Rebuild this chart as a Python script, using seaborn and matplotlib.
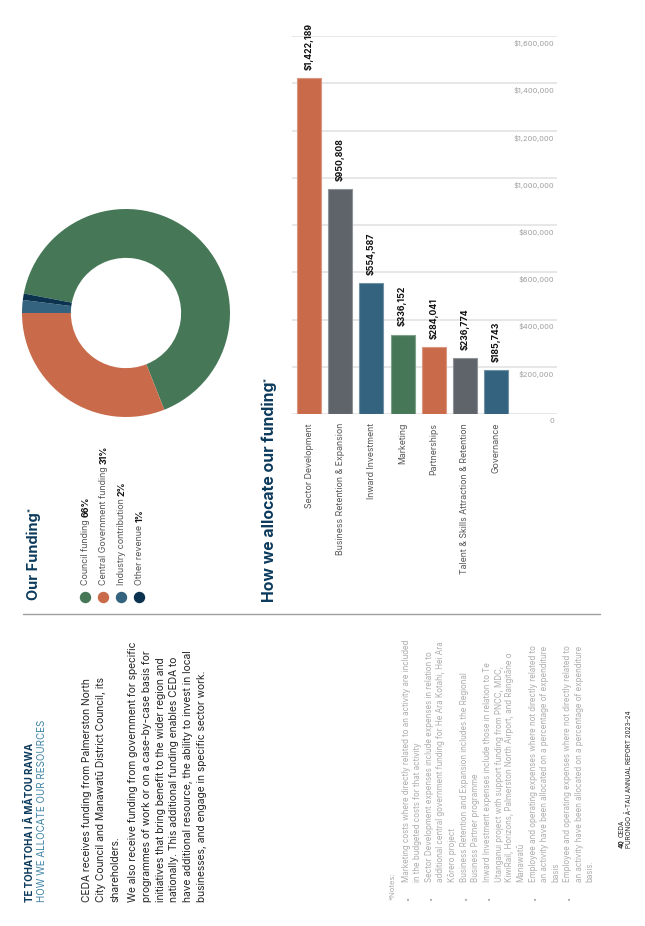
import matplotlib
matplotlib.use('Agg')
import matplotlib.pyplot as plt
from matplotlib.lines import Line2D
from matplotlib.transforms import offset_copy
import pandas as pd
import seaborn as sns

# funding sources (donut)
FUNDING_LABELS = ['Council funding', 'Central Government funding',
                  'Industry contribution', 'Other revenue']
FUNDING_PCT = [66, 31, 2, 1]
FUNDING_COLORS = ['#467857', '#c96b4b', '#34637f', '#0b3350']

# allocation of funding (bars)
ALLOC_CATS = ['Sector Development', 'Business Retention & Expansion',
              'Inward Investment', 'Marketing', 'Partnerships',
              'Talent & Skills Attraction & Retention', 'Governance']
ALLOC_VALUES = [1422189, 950808, 554587, 336152, 284041, 236774, 185743]
ALLOC_COLORS = ['#c96b4b', '#5f646b', '#34637f', '#467857',
                '#c96b4b', '#5f646b', '#34637f']
Y_TICKS = [0, 200000, 400000, 600000, 800000, 1000000, 1200000, 1400000, 1600000]
Y_TICK_LABELS = ['0', '$200,000', '$400,000', '$600,000', '$800,000',
                 '$1,000,000', '$1,200,000', '$1,400,000', '$1,600,000']

PARA1 = ['CEDA receives funding from Palmerston North',
         'City Council and Manawatū District Council, its',
         'shareholders.']
PARA2 = ['We also receive funding from government for specific',
         'programmes of work or on a case-by-case basis for',
         'initiatives that bring benefit to the wider region and',
         'nationally. This additional funding enables CEDA to',
         'have additional resource, the ability to invest in local',
         'businesses, and engage in specific sector work.']
NOTES = [
    ['Marketing costs where directly related to an activity are included',
     'in the budgeted costs for that activity'],
    ['Sector Development expenses include expenses in relation to',
     'additional central government funding for He Ara Kotahi, Hei Ara',
     'Kōrero project'],
    ['Business Retention and Expansion includes the Regional',
     'Business Partner programme'],
    ['Inward Investment expenses include those in relation to Te',
     'Utanganui project with support funding from PNCC, MDC,',
     'KiwiRail, Horizons, Palmerston North Airport, and Rangitāne o',
     'Manawatū'],
    ['Employee and operating expenses where not directly related to',
     'an activity have been allocated on a percentage of expenditure',
     'basis'],
    ['Employee and operating expenses where not directly related to',
     'an activity have been allocated on a percentage of expenditure',
     'basis.'],
]

NAVY = '#0c3a5c'
W, H = 645, 926

sns.set_theme(style='white')
plt.rcParams['font.family'] = ['Inter', 'DejaVu Sans']

fig = plt.figure(figsize=(W / 100, H / 100), dpi=100)
fig.patch.set_facecolor('white')
renderer = fig.canvas.get_renderer()


def fx(px):
    return px / W


def fy(py):
    return 1 - py / H


def vtext(x, y, s, **kw):
    # text rotated to read bottom-to-top, baseline at pixel column x
    return fig.text(fx(x), fy(y), s, rotation=90, rotation_mode='anchor',
                    ha='left', va='baseline', **kw)


def vtext_after(t, s, gap=2, dx=0, **kw):
    bb = t.get_window_extent(renderer)
    x, _ = t.get_position()
    return fig.text(x + dx / W, (bb.y1 + gap) / H, s, rotation=90,
                    rotation_mode='anchor', ha='left', va='baseline', **kw)


# ---- left column text
vtext(33, 902, 'TE TOHATOHA I Ā MĀTOU RAWA', fontsize=7.0,
      fontweight='bold', color=NAVY)
vtext(45, 902, 'HOW WE ALLOCATE OUR RESOURCES', fontsize=7.05, color='#3f84a8')
for i, line in enumerate(PARA1):
    vtext(90 + i * 14, 902, line, fontsize=7.35, color='#222222')
for i, line in enumerate(PARA2):
    vtext(136 + i * 13.8, 902, line, fontsize=7.35, color='#222222')

# divider
fig.add_artist(Line2D([fx(23), fx(600)], [fy(614), fy(614)],
                      color='#a0a0a0', lw=1.0))

# ---- notes
vtext(395, 900, '*Notes:', fontsize=5.6, color='#ababab')
xline = 409
for note in NOTES:
    fig.text(fx(xline - 2), fy(900), '•', fontsize=5.2, color='#ababab',
             ha='center', va='center')
    for line in note:
        vtext(xline, 882, line, fontsize=5.7, color='#ababab')
        xline += 11
    xline += 1.5

# ---- footer
t = vtext(624, 848, '40', fontsize=4.6, fontweight='bold', color='#222222')
vtext_after(t, 'CEDA', gap=2, fontsize=4.6, color='#222222')
vtext(631, 848, 'PŪRONGO Ā-TAU ANNUAL REPORT 2023–24', fontsize=4.6,
      color='#222222')

# ---- Our Funding donut
t = vtext(38, 600, 'Our Funding', fontsize=10.5, fontweight='bold', color=NAVY)
vtext_after(t, '*', gap=0, dx=-7, fontsize=5.5, fontweight='bold', color=NAVY)

ax_pie = fig.add_axes([fx(22), fy(417), 208 / W, 208 / H])
ax_pie.pie(FUNDING_PCT, colors=FUNDING_COLORS, startangle=169.2,
           counterclock=False, wedgeprops=dict(width=0.47, linewidth=0))
ax_pie.set_xlim(-1, 1)
ax_pie.set_ylim(-1, 1)
ax_pie.set_aspect('equal')
ax_pie.axis('off')

for i, (lab, pct, col) in enumerate(zip(FUNDING_LABELS, FUNDING_PCT, FUNDING_COLORS)):
    xc = 85 + i * 18
    fig.add_artist(Line2D([fx(xc)], [fy(597)], marker='o', markersize=7.2,
                          color=col, lw=0))
    t = vtext(xc + 3.5, 585, lab, fontsize=6.4, color='#555555')
    vtext_after(t, f'{pct}%', gap=2.5, fontsize=6.4, fontweight='bold',
                color='#111111')

# ---- How we allocate our funding bars
t = vtext(274, 602, 'How we allocate our funding', fontsize=11.4,
          fontweight='bold', color=NAVY)
vtext_after(t, '*', gap=0, dx=-7, fontsize=5.5, fontweight='bold', color=NAVY)

ax = fig.add_axes([fx(292), fy(414), (557 - 292) / W, (414 - 36) / H])
df = pd.DataFrame({'category': ALLOC_CATS, 'value': ALLOC_VALUES})
sns.barplot(data=df, x='category', y='value', hue='category',
            palette=ALLOC_COLORS, legend=False, width=0.77, saturation=1,
            ax=ax, zorder=3)
# thin lighter outline round each bar, as in the report
for patch in ax.patches:
    r, g, b, _ = patch.get_facecolor()
    patch.set_edgecolor((r + (1 - r) * 0.3, g + (1 - g) * 0.3, b + (1 - b) * 0.3))
    patch.set_linewidth(0.8)
ax.set_xlim(-0.55, 7.96)
ax.set_ylim(0, 1600000)
ax.set_yticks(Y_TICKS)
ax.yaxis.grid(True, color='#e3e3e3', lw=1.2, zorder=0)
ax.set_axisbelow(True)
for s in ax.spines.values():
    s.set_visible(False)
ax.set_xlabel('')
ax.set_ylabel('')
ax.tick_params(axis='y', left=False, labelleft=False)
ax.tick_params(axis='x', bottom=False, length=0, pad=6.5, labelsize=6.3,
               labelcolor='#555555', labelrotation=90)

for c in ax.containers:
    ax.bar_label(c, fmt='${:,.0f}', rotation=90, padding=6, fontsize=6.3,
                 fontweight='bold', color='#111111')

lab_tr = offset_copy(ax.get_yaxis_transform(), fig=fig, x=-3, y=-4, units='dots')
for v, lab in zip(Y_TICKS, Y_TICK_LABELS):
    ax.text(1, v, lab, transform=lab_tr, ha='right', va='top', fontsize=5.4,
            color='#a0a0a0')

fig.savefig('out.png', dpi=100, facecolor='white')
